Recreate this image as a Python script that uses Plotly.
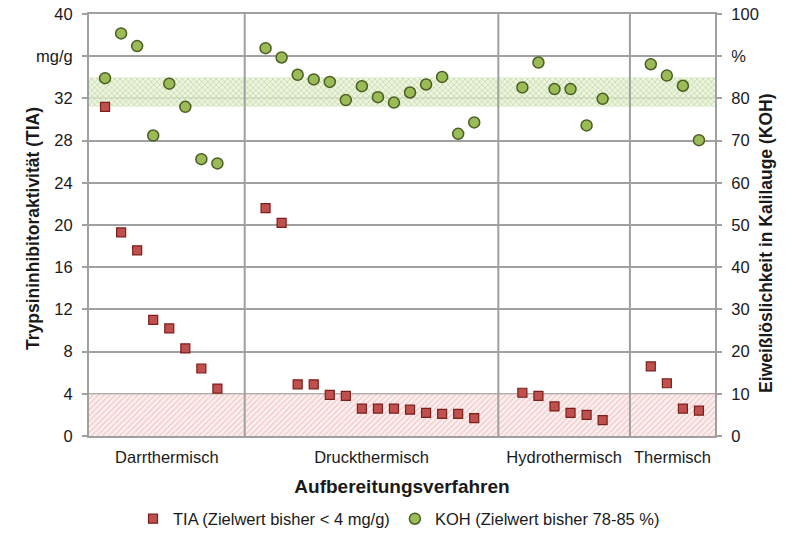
import plotly.graph_objects as go

# ---------------- data ----------------
categories = ["Darrthermisch", "Druckthermisch", "Hydrothermisch", "Thermisch"]

tia_darr = [31.2, 19.3, 17.6, 11.0, 10.2, 8.3, 6.4, 4.5]
tia_druck = [21.6, 20.2, 4.9, 4.9, 3.9, 3.8, 2.6, 2.6, 2.6, 2.5, 2.2, 2.1, 2.1, 1.7]
tia_hydro = [4.1, 3.8, 2.8, 2.2, 2.0, 1.5]
tia_therm = [6.6, 5.0, 2.6, 2.4]

koh_darr = [84.8, 95.4, 92.4, 71.2, 83.5, 78.0, 65.6, 64.6]
koh_druck = [91.9, 89.7, 85.6, 84.5, 83.9, 79.6, 82.9, 80.3, 79.0, 81.4, 83.3, 85.1, 71.6, 74.3]
koh_hydro = [82.6, 88.5, 82.2, 82.2, 73.6, 79.9]
koh_therm = [88.1, 85.4, 83.0, 70.1]

tia_target = (0, 4)       # mg/g
koh_target = (78, 85)     # %

left_max = 40
right_max = 100
left_ticks = [0, 4, 8, 12, 16, 20, 24, 28, 32, 36, 40]
left_ticktext = ["0", "4", "8", "12", "16", "20", "24", "28", "32", "mg/g", "40"]
right_ticks = [0, 10, 20, 30, 40, 50, 60, 70, 80, 90, 100]
right_ticktext = ["0", "10", "20", "30", "40", "50", "60", "70", "80", "%", "100"]

# ---------------- x layout (slots) ----------------
tia_groups = [tia_darr, tia_druck, tia_hydro, tia_therm]
koh_groups = [koh_darr, koh_druck, koh_hydro, koh_therm]
gap = 3
xs_groups = []
start = 1
for g in tia_groups:
    xs_groups.append([start + j for j in range(len(g))])
    start = start + len(g) - 1 + gap
x_max = xs_groups[-1][-1] + 1
separators = [0, 9.7, 25.5, 33.7, x_max]
centers = [(separators[i] + separators[i + 1]) / 2 for i in range(len(categories))]

x_all = [x for g in xs_groups for x in g]
tia_all = [v for g in tia_groups for v in g]
koh_all = [v for g in koh_groups for v in g]

# KOH band expressed on the left axis scale so it is drawn beneath all markers
scale = left_max / right_max
koh_band_left = (koh_target[0] * scale, koh_target[1] * scale)

GRID = "#a0a0a0"
FONT = "Liberation Sans, Arial, sans-serif"
TXT = "#1a1a1a"

fig = go.Figure()

fig.add_trace(go.Scatter(
    x=[0, x_max, x_max, 0, 0], y=[tia_target[0], tia_target[0], tia_target[1], tia_target[1], tia_target[0]],
    fill="toself", mode="none", showlegend=False, hoverinfo="skip",
    fillcolor="rgba(250,225,225,0.5)",
    fillpattern=dict(shape="/", fgcolor="#e3a3a3", bgcolor="rgba(252,234,234,0.7)", size=4, solidity=0.35),
))
fig.add_trace(go.Scatter(
    x=[0, x_max, x_max, 0, 0],
    y=[koh_band_left[0], koh_band_left[0], koh_band_left[1], koh_band_left[1], koh_band_left[0]],
    fill="toself", mode="none", showlegend=False, hoverinfo="skip",
    fillcolor="rgba(215,232,190,0.6)",
    fillpattern=dict(shape="x", fgcolor="#a8c47a", bgcolor="rgba(232,242,218,0.8)", size=4, solidity=0.4),
))

fig.add_trace(go.Scatter(
    x=x_all, y=tia_all, mode="markers", name="TIA (Zielwert bisher < 4 mg/g)",
    marker=dict(symbol="square", size=9, color="#c0504d", line=dict(color="#7a1f1c", width=1.2)),
))
fig.add_trace(go.Scatter(
    x=x_all, y=koh_all, mode="markers", name="KOH (Zielwert bisher 78-85 %)", yaxis="y2",
    marker=dict(symbol="circle", size=11, color="#9bbb59", line=dict(color="#4a5e22", width=1.5)),
))

for sx in separators[1:-1]:
    fig.add_shape(type="line", xref="x", yref="paper", x0=sx, x1=sx, y0=0, y1=1,
                  line=dict(color=GRID, width=2), layer="above")

fig.add_annotation(text="<b>Trypsininhibitoraktivität (TIA)</b>", xref="paper", yref="paper",
                   x=-(89 - 33) / 626, y=(436 - 229) / 422, textangle=-90, showarrow=False,
                   font=dict(size=17.5, color=TXT), xanchor="center", yanchor="middle")
fig.add_annotation(text="<b>Eiweißlöslichkeit in Kalilauge (KOH)</b>", xref="paper", yref="paper",
                   x=1 + (766 - 715) / 626, y=(436 - 243) / 422, textangle=-90, showarrow=False,
                   font=dict(size=17.5, color=TXT), xanchor="center", yanchor="middle")

fig.update_layout(
    width=800, height=533,
    margin=dict(l=89, r=85, t=14, b=97, autoexpand=False),
    paper_bgcolor="white", plot_bgcolor="white",
    font=dict(family=FONT, size=16, color=TXT),
    xaxis=dict(
        range=[0, x_max], tickvals=centers, ticktext=categories, ticks="",
        showgrid=False, zeroline=False, showline=True, mirror=True, linecolor=GRID, linewidth=2,
        tickfont=dict(size=16.5), ticklabelstandoff=5, automargin=False,
        title=dict(text="<b>Aufbereitungsverfahren</b>", font=dict(size=19), standoff=15),
    ),
    yaxis=dict(
        range=[0, left_max], tickvals=left_ticks, ticktext=left_ticktext,
        showgrid=True, gridcolor=GRID, gridwidth=2, zeroline=False, automargin=False,
        showline=True, linecolor=GRID, linewidth=2, ticks="outside", ticklen=5, tickcolor=GRID, tickwidth=2,
        tickfont=dict(size=16.5), ticklabelstandoff=6,
    ),
    yaxis2=dict(
        range=[0, right_max], tickvals=right_ticks, ticktext=right_ticktext,
        overlaying="y", side="right", showgrid=False, zeroline=False, automargin=False,
        showline=True, linecolor=GRID, linewidth=2, ticks="outside", ticklen=5, tickcolor=GRID, tickwidth=2,
        tickfont=dict(size=16.5), ticklabelstandoff=6,
    ),
    legend=dict(orientation="h", xref="container", yref="container",
                x=133 / 800, xanchor="left", y=1 - 519 / 533, yanchor="middle",
                font=dict(size=16.5), itemwidth=30, bgcolor="rgba(0,0,0,0)"),
)

fig.write_html("out.html")
